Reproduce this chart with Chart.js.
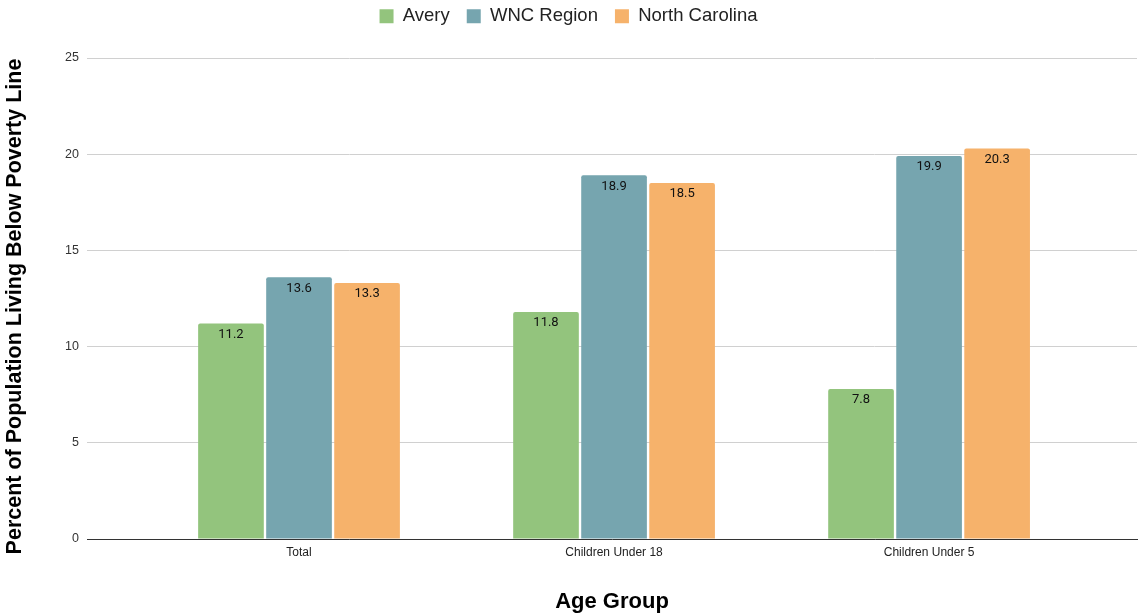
<!DOCTYPE html>
<html>
<head>
<meta charset="utf-8">
<script src="https://cdn.jsdelivr.net/npm/chart.js@4.4.1/dist/chart.umd.min.js"></script>
<style>
  html, body { margin: 0; padding: 0; background: #fff; }
  #wrap { width: 1138px; height: 615px; }
</style>
</head>
<body>
<div id="wrap"><canvas id="povertyChart"></canvas></div>
<script>
var ageGroups = ['Total', 'Children Under 18', 'Children Under 5'];
var seriesNames = ['Avery', 'WNC Region', 'North Carolina'];
var averyValues = [11.2, 11.8, 7.8];
var wncValues = [13.6, 18.9, 19.9];
var ncValues = [13.3, 18.5, 20.3];
var yTicks = [0, 5, 10, 15, 20, 25];
var yTitle = 'Percent of Population Living Below Poverty Line';

var colors = ['#93c47d', '#76a5af', '#f6b26b'];
var axisFont = '"Liberation Sans", Arial, sans-serif';

function toPoints(values) {
  return values.map(function (v, i) { return { x: i, y: v }; });
}

// value labels inside the top of each bar
var barLabels = {
  id: 'barLabels',
  afterDatasetsDraw: function (chart) {
    var ctx = chart.ctx;
    ctx.save();
    ctx.font = '13px Roboto, "Liberation Sans", sans-serif';
    ctx.fillStyle = '#111';
    ctx.textAlign = 'center';
    ctx.textBaseline = 'middle';
    chart.data.datasets.forEach(function (ds, di) {
      chart.getDatasetMeta(di).data.forEach(function (bar, i) {
        ctx.fillText(ds.data[i].y.toFixed(1), bar.x, bar.y + 11);
      });
    });
    ctx.restore();
  }
};

// rotated y title, sitting a bit below the plot's middle
var sideTitle = {
  id: 'sideTitle',
  afterDraw: function (chart) {
    var ctx = chart.ctx;
    var area = chart.chartArea;
    ctx.save();
    ctx.translate(15, (area.top + area.bottom) / 2 + 8);
    ctx.rotate(-Math.PI / 2);
    ctx.font = 'bold 21.5px ' + axisFont;
    ctx.fillStyle = '#000';
    ctx.textAlign = 'center';
    ctx.textBaseline = 'middle';
    ctx.fillText(yTitle, 0, 0);
    ctx.restore();
  }
};

// give the legend a fixed block height so the plot starts lower
var legendHeight = {
  id: 'legendHeight',
  beforeLayout: function (chart) {
    var lg = chart.legend;
    if (lg && !lg._fixedFit) {
      var fit = lg.fit;
      lg.fit = function () {
        fit.call(this);
        this.height = 68;
      };
      lg._fixedFit = true;
    }
  }
};

new Chart(document.getElementById('povertyChart'), {
  type: 'bar',
  data: {
    datasets: [
      { label: seriesNames[0], data: toPoints(averyValues), backgroundColor: colors[0] },
      { label: seriesNames[1], data: toPoints(wncValues), backgroundColor: colors[1] },
      { label: seriesNames[2], data: toPoints(ncValues), backgroundColor: colors[2] }
    ]
  },
  options: {
    responsive: true,
    maintainAspectRatio: false,
    animation: false,
    layout: { padding: { left: 0, right: 1, top: -10, bottom: 0 } },
    datasets: {
      bar: { categoryPercentage: 0.648, barPercentage: 0.965, borderRadius: 2, borderSkipped: 'start' }
    },
    plugins: {
      legend: {
        position: 'top',
        labels: {
          boxWidth: 14,
          boxHeight: 14,
          padding: 17,
          color: '#222',
          font: { family: axisFont, size: 18.5 }
        }
      },
      tooltip: { enabled: false }
    },
    scales: {
      x: {
        type: 'linear',
        offset: false,
        min: -0.673,
        max: 2.66,
        grid: { display: false, drawTicks: false },
        border: { display: true, color: '#333', width: 1 },
        afterBuildTicks: function (scale) {
          scale.ticks = ageGroups.map(function (g, i) { return { value: i }; });
        },
        afterFit: function (scale) { scale.height = 76; },
        ticks: {
          autoSkip: false,
          maxRotation: 0,
          padding: 6,
          color: '#222',
          font: { family: axisFont, size: 12 },
          callback: function (v) { return ageGroups[v]; }
        },
        title: {
          display: true,
          text: 'Age Group',
          color: '#000',
          padding: { top: 0, bottom: 0 },
          font: { family: axisFont, size: 22, weight: 'bold' }
        }
      },
      y: {
        min: 0,
        max: 25,
        afterBuildTicks: function (scale) {
          scale.ticks = yTicks.map(function (v) { return { value: v }; });
        },
        afterFit: function (scale) { scale.width = 87; },
        grid: { color: '#d0d0d0', drawTicks: false },
        border: { display: false },
        ticks: {
          padding: 8,
          color: '#333',
          font: { family: axisFont, size: 12.5 }
        }
      }
    }
  },
  plugins: [barLabels, legendHeight, sideTitle]
});
</script>
</body>
</html>
